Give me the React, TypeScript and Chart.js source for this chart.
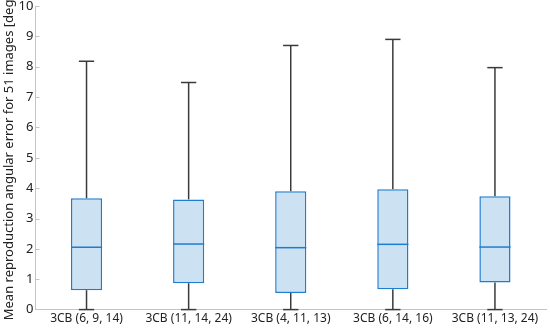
import React, { useEffect, useRef } from "react";
import { Chart, registerables } from "chart.js";

Chart.register(...registerables);

const categories = ["3CB (6, 9, 14)", "3CB (11, 14, 24)", "3CB (4, 11, 13)", "3CB (6, 14, 16)", "3CB (11, 13, 24)"];
const whiskerMin = [0, 0, 0, 0, 0];
const q1 = [0.64, 0.87, 0.55, 0.67, 0.89];
const median = [2.05, 2.16, 2.04, 2.15, 2.06];
const q3 = [3.67, 3.63, 3.9, 3.96, 3.73];
const whiskerMax = [8.18, 7.48, 8.7, 8.9, 7.97];
const yTicks = [0, 1, 2, 3, 4, 5, 6, 7, 8, 9, 10];

const FONT = "'Noto Sans', sans-serif";
const BOX_FILL = "#cce2f2";
const BOX_EDGE = "#1f7dd0";
const WHISKER = "#3a3a3a";
const AXIS = "#c4c4c4";

const boxPlugin = {
  id: "boxparts",
  beforeDatasetsDraw(chart: any) {
    const ctx = chart.ctx;
    const x = chart.scales.x;
    const y = chart.scales.y;
    ctx.save();
    ctx.strokeStyle = WHISKER;
    ctx.lineWidth = 1.5;
    categories.forEach((_, i) => {
      const cx = x.getPixelForValue(i);
      const half = x.width / categories.length * 0.075;
      const segs = [
        [whiskerMin[i], q1[i]],
        [q3[i], whiskerMax[i]],
      ];
      segs.forEach(([a, b]) => {
        ctx.beginPath();
        ctx.moveTo(cx, y.getPixelForValue(a));
        ctx.lineTo(cx, y.getPixelForValue(b));
        ctx.stroke();
      });
      [whiskerMin[i], whiskerMax[i]].forEach((v) => {
        const py = y.getPixelForValue(v);
        ctx.beginPath();
        ctx.moveTo(cx - half, py);
        ctx.lineTo(cx + half, py);
        ctx.stroke();
      });
    });
    ctx.restore();
  },
  afterDatasetsDraw(chart: any) {
    const ctx = chart.ctx;
    const x = chart.scales.x;
    const y = chart.scales.y;
    const meta = chart.getDatasetMeta(0);
    ctx.save();
    ctx.strokeStyle = BOX_EDGE;
    ctx.lineWidth = 1.5;
    meta.data.forEach((bar: any, i: number) => {
      const half = bar.width / 2;
      const py = y.getPixelForValue(median[i]);
      ctx.beginPath();
      ctx.moveTo(bar.x - half, py);
      ctx.lineTo(bar.x + half, py);
      ctx.stroke();
    });
    ctx.strokeStyle = AXIS;
    ctx.lineWidth = 1;
    yTicks.forEach((t) => {
      if (t === 0) return;
      const py = Math.round(y.getPixelForValue(t)) + 0.5;
      ctx.beginPath();
      ctx.moveTo(x.left, py);
      ctx.lineTo(x.left + 4, py);
      ctx.stroke();
    });
    ctx.restore();
  },
};

export default function App() {
  const ref = useRef<HTMLCanvasElement>(null);
  useEffect(() => {
    document.body.style.margin = "0";
    const chart = new Chart(ref.current!, {
      type: "bar",
      data: {
        labels: categories,
        datasets: [
          {
            data: categories.map((_, i) => [q1[i], q3[i]]),
            backgroundColor: BOX_FILL,
            borderColor: BOX_EDGE,
            borderWidth: 1.5,
            borderSkipped: false,
            barPercentage: 0.305,
            categoryPercentage: 1,
          },
        ],
      },
      options: {
        animation: false,
        responsive: false,
        maintainAspectRatio: false,
        layout: { padding: { top: 6, right: 4, left: 1, bottom: 0 } },
        plugins: { legend: { display: false }, tooltip: { enabled: false } },
        scales: {
          x: {
            grid: { display: false, drawTicks: false, tickLength: 0 },
            border: { display: true, color: AXIS, width: 1 },
            ticks: { color: "#222", font: { family: FONT, size: 12 }, padding: 2 },
          },
          y: {
            min: 0,
            max: 10,
            afterBuildTicks: (s: any) => {
              s.ticks = yTicks.map((v) => ({ value: v }));
            },
            afterFit: (s: any) => {
              s.paddingTop = 0;
            },
            grid: { display: false, drawTicks: false, tickLength: 0 },
            border: { display: true, color: AXIS, width: 1 },
            ticks: { color: "#222", font: { family: FONT, size: 13 }, padding: 2 },
            title: {
              display: true,
              text: "Mean reproduction angular error for 51 images [deg]",
              color: "#222",
              font: { family: FONT, size: 13 },
              padding: { top: 0, bottom: 0 },
            },
          },
        },
      },
      plugins: [boxPlugin],
    });
    return () => chart.destroy();
  }, []);
  return (
    <div style={{ width: 550, height: 328 }}>
      <canvas ref={ref} width={550} height={328} />
    </div>
  );
}
